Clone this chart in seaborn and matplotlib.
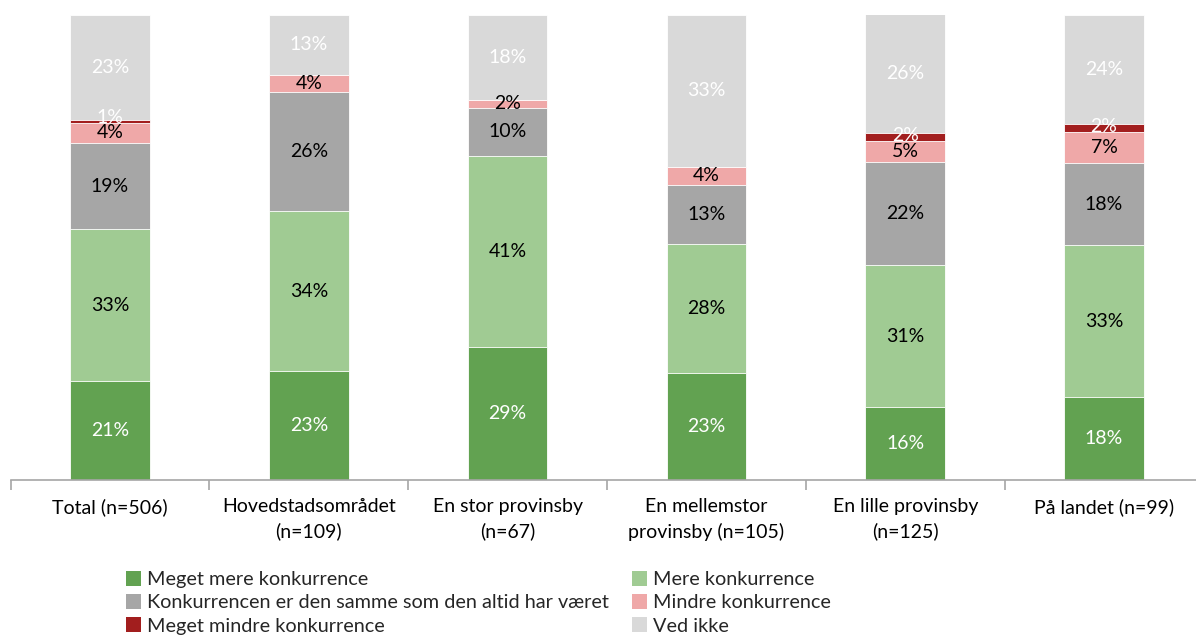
import numpy as np
import pandas as pd
import matplotlib
matplotlib.use("Agg")
import matplotlib.pyplot as plt
from matplotlib.patches import Patch
import seaborn as sns

categories = ["Total (n=506)", "Hovedstadsområdet\n(n=109)", "En stor provinsby\n(n=67)",
              "En mellemstor\nprovinsby (n=105)", "En lille provinsby\n(n=125)", "På landet (n=99)"]

series_names = ["Meget mere konkurrence", "Mere konkurrence",
                "Konkurrencen er den samme som den altid har været", "Mindre konkurrence",
                "Meget mindre konkurrence", "Ved ikke"]

meget_mere = [21.3, 23.4, 28.6, 23.0, 15.6, 17.8]
mere = [32.6, 34.4, 41.1, 27.8, 30.6, 32.7]
samme = [18.6, 25.6, 10.4, 12.6, 22.2, 17.6]
mindre = [4.3, 3.7, 1.6, 4.0, 4.6, 6.7]
meget_mindre = [0.7, 0.0, 0.0, 0.0, 1.6, 1.7]
ved_ikke = [22.6, 12.9, 18.3, 32.6, 25.6, 23.6]

colors = ["#62A251", "#A0CB93", "#A6A6A6", "#EFA8A8", "#A21E1E", "#D9D9D9"]
label_colors = ["white", "black", "black", "black", "white", "white"]

series = [meget_mere, mere, samme, mindre, meget_mindre, ved_ikke]

sns.set_theme(style="white")
plt.rcParams["font.family"] = ["Lato", "DejaVu Sans"]

fig = plt.figure(figsize=(11.96, 6.35), dpi=100)
ax = fig.add_axes([10.6 / 1196, 155 / 635, 1192.8 / 1196, 465 / 635])

vals = np.array(series)
cum = np.cumsum(vals, axis=0)

# draw from top layer down so stacked segments show
for i in range(len(series) - 1, -1, -1):
    df = pd.DataFrame({"cat": categories, "val": cum[i]})
    sns.barplot(data=df, x="cat", y="val", order=categories, color=colors[i],
                saturation=1, width=0.4, edgecolor="white", linewidth=0.6, ax=ax)

# labels
for i in range(len(series)):
    for j in range(len(categories)):
        v = vals[i, j]
        if v <= 0:
            continue
        if i == 4:
            # tiny segment: label baseline sits on the segment's bottom edge
            ax.text(j, cum[i, j] - v, f"{v:.0f}%", ha="center", va="baseline",
                    fontsize=14, color=label_colors[i])
        else:
            ax.text(j, cum[i, j] - v / 2, f"{v:.0f}%", ha="center", va="center",
                    fontsize=14, color=label_colors[i])

ax.set_xlim(-0.5, len(categories) - 0.5)
ax.set_ylim(0, 100)
ax.set_xlabel("")
ax.set_ylabel("")
ax.set_yticks([])
for s in ["top", "right", "left"]:
    ax.spines[s].set_visible(False)
ax.spines["bottom"].set_color("#A6A6A6")
ax.spines["bottom"].set_linewidth(1.2)

ax.set_xticks(range(len(categories)))
ax.set_xticklabels(categories, fontsize=14, color="black", linespacing=1.5)
ax.set_xticks(np.arange(-0.5, len(categories) + 0.5, 1), minor=True)
ax.tick_params(axis="x", which="major", length=0, pad=13)
ax.tick_params(axis="x", which="minor", length=7, width=1.2, color="#A6A6A6", bottom=True)
ax.grid(False)

handles = [Patch(facecolor=c, edgecolor="none") for c in colors]
left_idx = [0, 2, 4]
right_idx = [1, 3, 5]
common = dict(frameon=False, fontsize=14.3, handlelength=0.75, handleheight=0.75,
              handletextpad=0.3, labelspacing=0.3, borderpad=0, borderaxespad=0,
              loc="upper left")
leg1 = fig.legend([handles[k] for k in left_idx], [series_names[k] for k in left_idx],
                  bbox_to_anchor=(126 / 1196, 1 - 571 / 635), **common)
leg2 = fig.legend([handles[k] for k in right_idx], [series_names[k] for k in right_idx],
                  bbox_to_anchor=(632 / 1196, 1 - 571 / 635), **common)

fig.savefig("out.png", dpi=100)
